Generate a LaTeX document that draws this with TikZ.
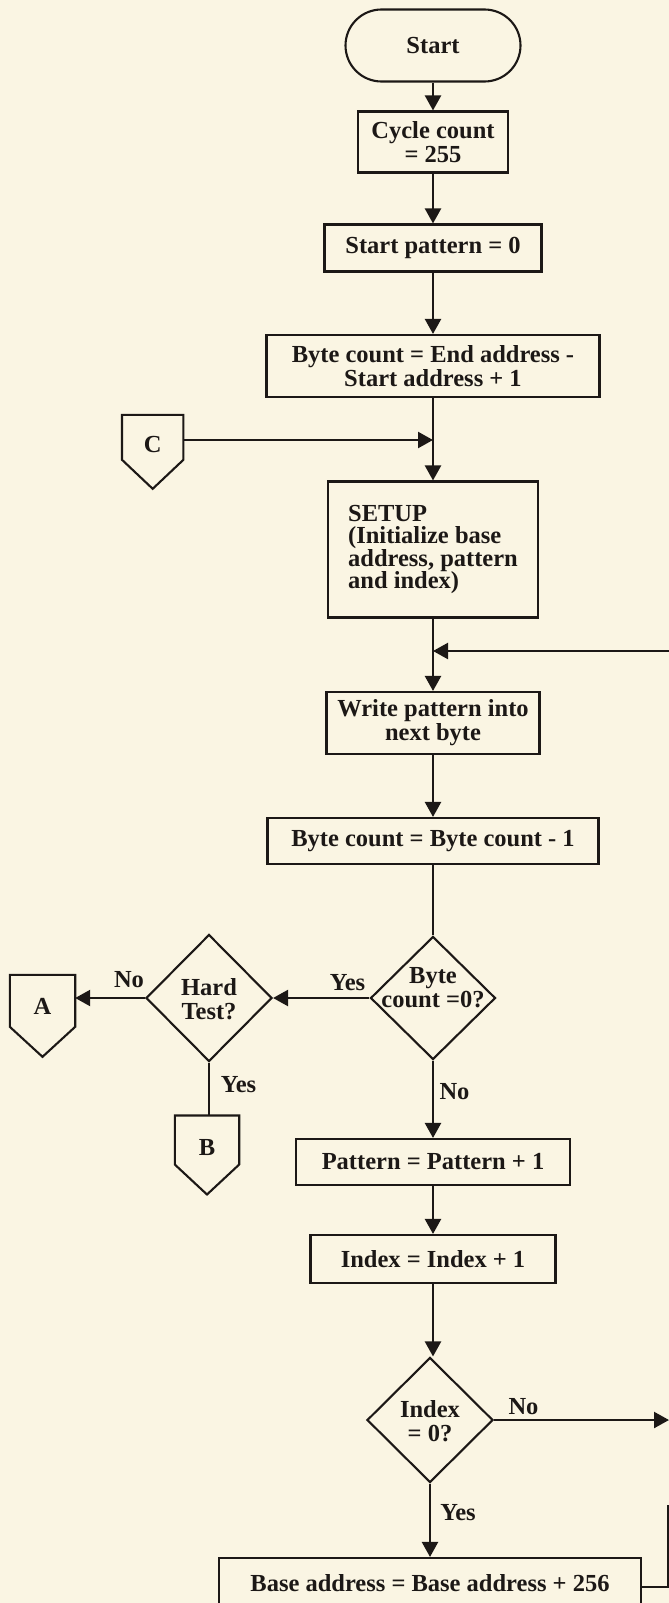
\documentclass[tikz,border=0pt]{standalone}
\usepackage{fontspec}
\setmainfont{Liberation Serif}
\usetikzlibrary{arrows.meta,shapes.geometric,calc}
\definecolor{paper}{RGB}{250,245,227}
\definecolor{ink}{RGB}{28,24,22}
\begin{document}
\begin{tikzpicture}[x=1pt,y=-1pt,
  every node/.style={text=ink,font=\bfseries\fontsize{24.5}{24}\selectfont},
  box/.style={draw=ink,line width=2.1pt,rectangle,inner sep=0pt,align=center},
  dia/.style={draw=ink,line width=2.1pt,diamond,inner sep=0pt},
  conn/.style={draw=none,inner sep=0pt},
  txt/.style={inner sep=0pt,align=center},
  flow/.style={draw=ink,line width=2.3pt},
  arr/.style={flow,-{Triangle[length=15pt,width=16pt]}},
]
\useasboundingbox (0,0) rectangle (669,1603);
\clip (0,0) rectangle (669,1603);
\fill[paper] (0,0) rectangle (669,1603);

% main column
\node[box,minimum width=175pt,minimum height=72pt,rounded corners=36pt] (start) at (433,45.5) {Start};
\node[box,minimum width=150pt,minimum height=61pt] (cycle) at (433,142) {Cycle count\\= 255};
\node[box,minimum width=217pt,minimum height=47pt] (spat) at (433,248) {Start pattern = 0};
\node[box,minimum width=333pt,minimum height=62pt] (bcount) at (433,366) {Byte count = End address -\\Start address + 1};
\node[box,minimum width=210pt,minimum height=136pt,align=left,font=\bfseries\fontsize{24.5}{22.5}\selectfont] (setup) at (433,549.5) {SETUP\\(Initialize base\\address, pattern\\and index)};
\node[box,minimum width=213pt,minimum height=62pt] (write) at (433,723) {Write pattern into\\next byte};
\node[box,minimum width=331pt,minimum height=46pt] (bminus) at (433,841) {Byte count = Byte count - 1};
\node[dia,minimum width=125pt,minimum height=123pt] (d1) at (433,998) {};
\node[txt] (d1t) at (433,987.5) {Byte\\count =0?};
\node[dia,minimum width=126pt,minimum height=127pt] (hard) at (209,998) {};
\node[txt] (hardt) at (209,999) {Hard\\Test?};
\node[box,minimum width=274pt,minimum height=46pt] (pattern) at (433,1162) {Pattern = Pattern + 1};
\node[box,minimum width=245pt,minimum height=48pt] (index) at (433,1259) {Index = Index + 1};
\node[dia,minimum width=126pt,minimum height=125pt] (d2) at (430,1420) {};
\node[txt] (d2t) at (430,1421.5) {Index\\= 0?};
\node[box,minimum width=422pt,minimum height=50pt] (base) at (430,1583) {Base address = Base address + 256};

% off-page connectors
\node[conn,minimum width=61pt,minimum height=60pt] (C) at (152.7,445) {C};
\draw[flow,line width=2.1pt] (C.north west) -- (C.north east) -- ++(0,45) -- ($(C.north)+(0,74)$) -- ($(C.north west)+(0,45)$) -- cycle;
\node[conn,minimum width=65pt,minimum height=63.4pt] (A) at (42.5,1006.7) {A};
\draw[flow,line width=2.1pt] (A.north west) -- (A.north east) -- ++(0,52) -- ($(A.north)+(0,82)$) -- ($(A.north west)+(0,52)$) -- cycle;
\node[conn,minimum width=64pt,minimum height=64.6pt] (B) at (207,1148) {B};
\draw[flow,line width=2.1pt] (B.north west) -- (B.north east) -- ++(0,49) -- ($(B.north)+(0,79)$) -- ($(B.north west)+(0,49)$) -- cycle;

% junction points
\coordinate (cJ) at (433,440);
\coordinate (loopR) at (672,651);
\coordinate (loopJ) at (433,651);
\coordinate (rEdge) at (669,1421);
\coordinate (bR) at (668,1587);
\coordinate (bTop) at (668,1505);

% connectors
\draw[arr] (start.south) -- (cycle.north);
\draw[arr] (cycle.south) -- (spat.north);
\draw[arr] (spat.south) -- (bcount.north);
\draw[arr] (bcount.south) -- (setup.north);
\draw[arr] (C.east |- cJ) -- (cJ);
\draw[arr] (setup.south) -- (write.north);
\draw[arr] (loopR) -- (loopJ);
\draw[arr] (write.south) -- (bminus.north);
\draw[flow] (bminus.south) -- (d1.north);
\draw[arr] (d1.west) -- (hard.east);
\draw[arr] (hard.west) -- (hard.west -| A.east);
\draw[flow] (hard.south) -- (hard.south |- B.north);
\draw[arr] (d1.south) -- (pattern.north);
\draw[arr] (pattern.south) -- (index.north);
\draw[arr] (index.south) -- (index.south |- d2.north);
\draw[arr] (d2.east) -- (d2.east -| rEdge);
\draw[arr] (d2.south) -- (d2.south |- base.north);
\draw[flow] (base.east |- bR) -- (bR) -- (bTop);

% labels
\node[txt] (yes1) at (347.5,983) {Yes};
\node[txt] (no1) at (129,980) {No};
\node[txt] (yes2) at (238.5,1085) {Yes};
\node[txt] (no2) at (454.5,1092) {No};
\node[txt] (no3) at (523.5,1407) {No};
\node[txt] (yes3) at (458,1513) {Yes};
\end{tikzpicture}
\end{document}
